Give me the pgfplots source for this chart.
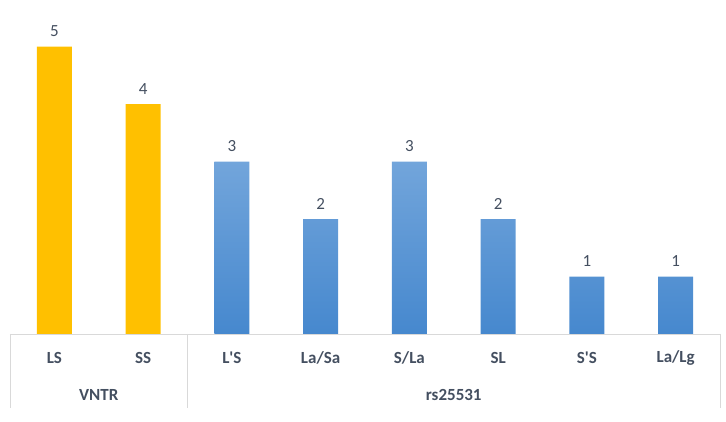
\documentclass[border=0pt]{standalone}
\usepackage{pgfplots}
\pgfplotsset{compat=1.18}
\usepackage{fontspec}
\setmainfont{Carlito}
\definecolor{gold}{RGB}{255,192,0}
\definecolor{bluetop}{RGB}{114,165,219}
\definecolor{bluebot}{RGB}{70,136,206}
\definecolor{txt}{RGB}{68,79,96}
\definecolor{gridgray}{RGB}{217,217,217}

\begin{document}
\begin{tikzpicture}[x=1pt,y=1pt]
\useasboundingbox (0,0) rectangle (726,422);
\begin{axis}[
    at={(10pt,88pt)}, anchor=south west,
    scale only axis,
    width=710pt, height=334pt,
    xmin=0, xmax=8,
    ymin=0, ymax=5.81,
    ybar, bar width=35pt,
    bar shift=0pt,
    axis y line=none,
    axis x line*=bottom,
    x axis line style={gridgray, thick, -},
    xtick={0.5,1.5,...,7.5},
    xticklabels={LS,SS,L\textquotesingle S,La/Sa,S/La,SL,S\textquotesingle S,La/Lg},
    xticklabel style={anchor=center, yshift=-24pt, font=\fontsize{17}{19}\selectfont\bfseries, text=txt},
    major tick length=0pt,
    clip=false,
    /pgf/number format/assume math mode=true,
    nodes near coords,
    every node near coord/.append style={font=\fontsize{17}{19}\selectfont, text=txt, yshift=6pt},
]
\addplot[fill=gold, draw=none] coordinates {(0.5,5) (1.5,4)};
\addplot[draw=none, top color=bluetop, bottom color=bluebot] coordinates {
    (2.5,3) (3.5,2) (4.5,3) (5.5,2) (6.5,1) (7.5,1)};
\draw[gridgray, thick] (axis cs:0,0) -- ++(0,-74pt);
\draw[gridgray, thick] (axis cs:2,0) -- ++(0,-74pt);
\draw[gridgray, thick] (axis cs:8,0) -- ++(0,-74pt);
\node[font=\fontsize{17}{19}\selectfont\bfseries, text=txt] at ([yshift=-61pt]axis cs:1,0) {VNTR};
\node[font=\fontsize{17}{19}\selectfont\bfseries, text=txt] at ([yshift=-61pt]axis cs:5,0) {rs25531};
\end{axis}
\end{tikzpicture}
\end{document}
